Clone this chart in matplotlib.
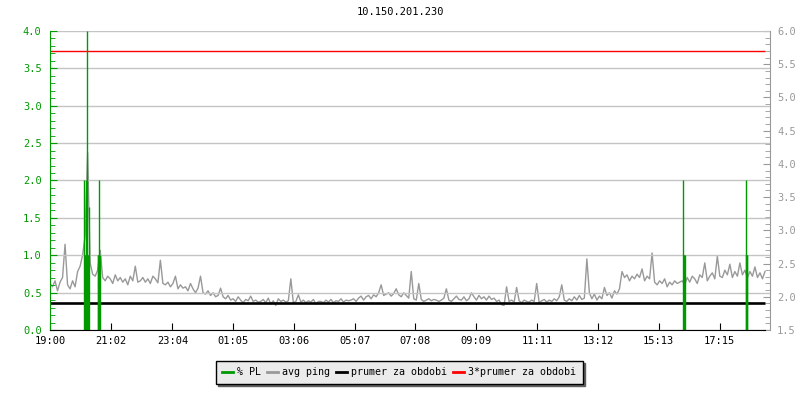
import numpy as np
import matplotlib
matplotlib.use('Agg')
import matplotlib.pyplot as plt
from matplotlib.lines import Line2D
from matplotlib.ticker import MultipleLocator, FormatStrFormatter

plt.rcParams['font.family'] = 'DejaVu Sans Mono'

title = '10.150.201.230'
tick_labels = ['19:00', '21:02', '23:04', '01:05', '03:06', '05:07',
               '07:08', '09:09', '11:11', '13:12', '15:13', '17:15']

# avg ping [ms], one sample every 5 minutes from 19:00
sample_step = 5
avg_ping = [
    2.20, 2.15, 2.24, 2.09, 2.22, 2.29, 2.79, 2.18, 2.12, 2.24, 2.15, 2.38,
    2.46, 2.63, 2.91, 4.17, 2.51, 2.34, 2.31, 2.40, 2.70, 2.29, 2.24, 2.31,
    2.27, 2.20, 2.33, 2.24, 2.29, 2.22, 2.27, 2.18, 2.31, 2.24, 2.46, 2.22,
    2.24, 2.29, 2.22, 2.27, 2.20, 2.31, 2.27, 2.21, 2.55, 2.20, 2.18, 2.22,
    2.15, 2.20, 2.31, 2.12, 2.18, 2.13, 2.15, 2.09, 2.20, 2.12, 2.06, 2.13,
    2.31, 2.06, 2.04, 2.09, 2.02, 2.06, 2.00, 2.02, 2.13, 2.00, 1.97, 2.02,
    1.95, 1.97, 1.93, 2.00, 1.95, 1.91, 1.96, 1.94, 2.01, 1.93, 1.95, 1.92,
    1.93, 1.96, 1.91, 1.98, 1.89, 1.94, 1.87, 1.97, 1.93, 1.95, 1.92, 1.94,
    2.27, 1.91, 1.93, 2.03, 1.92, 1.95, 1.91, 1.94, 1.92, 1.96, 1.89, 1.93,
    1.93, 1.91, 1.95, 1.92, 1.96, 1.91, 1.94, 1.93, 1.97, 1.92, 1.95, 1.94,
    1.95, 1.97, 1.93, 1.98, 2.01, 1.95, 2.00, 2.02, 1.97, 2.03, 2.00, 2.06,
    2.18, 2.02, 2.04, 2.06, 2.01, 2.05, 2.12, 2.03, 2.00, 2.06, 2.02, 1.98,
    2.38, 1.97, 1.95, 2.20, 1.96, 1.93, 1.95, 1.97, 1.94, 1.96, 1.95, 1.93,
    1.95, 1.98, 2.12, 1.95, 1.93, 1.97, 2.01, 1.96, 1.95, 2.00, 1.94, 1.97,
    2.06, 2.00, 1.95, 2.02, 1.97, 2.00, 1.95, 2.01, 1.96, 1.98, 1.93, 1.95,
    1.88, 1.87, 2.15, 1.93, 1.95, 1.92, 2.14, 1.94, 1.91, 1.95, 1.93, 1.92,
    1.95, 1.93, 2.20, 1.91, 1.94, 1.96, 1.92, 1.95, 1.93, 1.97, 1.94, 2.00,
    2.18, 1.95, 1.93, 1.97, 1.94, 2.00, 1.95, 2.02, 1.96, 1.98, 2.57, 2.06,
    1.97, 2.04, 1.95, 2.01, 1.97, 2.14, 2.02, 2.06, 1.98, 2.09, 2.04, 2.12,
    2.38, 2.29, 2.33, 2.24, 2.31, 2.27, 2.34, 2.29, 2.42, 2.24, 2.31, 2.27,
    2.66, 2.22, 2.18, 2.24, 2.20, 2.27, 2.15, 2.22, 2.18, 2.24, 2.20, 2.22,
    2.24, 2.18, 2.29, 2.22, 2.31, 2.27, 2.20, 2.33, 2.29, 2.51, 2.24, 2.31,
    2.36, 2.27, 2.61, 2.31, 2.29, 2.40, 2.33, 2.49, 2.29, 2.38, 2.31, 2.51,
    2.33, 2.40, 2.29, 2.38, 2.31, 2.45, 2.29, 2.36, 2.27, 2.38,
]

# packet loss events (minutes since 19:00, %)
pl_minutes = [68, 69, 70, 71, 72, 73, 74, 75, 76, 77,
              95, 96, 97, 98, 99,
              1262, 1263, 1264, 1265,
              1387, 1388, 1389, 1390]
pl_percent = [2.0, 1.0, 1.0, 1.0, 2.0, 1.0, 4.0, 1.0, 1.0, 1.65,
              1.0, 1.0, 1.0, 2.0, 1.0,
              2.0, 1.0, 1.0, 1.0,
              2.0, 1.0, 1.0, 1.0]

period_mean = 1.9      # prumer za obdobi [ms]
period_mean_x3 = 5.7   # 3*prumer za obdobi [ms]

GREEN = '#009900'
GRAY = '#999999'


def minutes_since_start(label, start='19:00'):
    h, m = map(int, label.split(':'))
    h0, m0 = map(int, start.split(':'))
    return ((h * 60 + m) - (h0 * 60 + m0)) % 1440


tick_pos = [minutes_since_start(t) for t in tick_labels]
t = np.arange(len(avg_ping)) * sample_step
t_end = t[-1]

fig = plt.figure(figsize=(8, 4), dpi=100)
ax = fig.add_axes([50 / 800, 70 / 400, 720 / 800, 299 / 400])
ax2 = ax.twinx()
ax.set_zorder(ax2.get_zorder() + 1)
ax.patch.set_visible(False)

# right axis: ping
ax2.plot(t, avg_ping, color=GRAY, lw=1.0)
ax2.hlines(period_mean, 0, t_end, color='black', lw=1.9)
ax2.hlines(period_mean_x3, 0, t_end, color='red', lw=1.0)
ax2.set_ylim(1.5, 6.0)
ax2.yaxis.set_major_locator(MultipleLocator(0.5))
ax2.yaxis.set_minor_locator(MultipleLocator(0.1))
ax2.yaxis.set_major_formatter(FormatStrFormatter('%.1f'))
ax2.tick_params(axis='y', which='both', direction='in', colors=GRAY,
                labelsize=7.5, pad=5)
ax2.tick_params(axis='y', which='major', length=5)
ax2.tick_params(axis='y', which='minor', length=3.5)
for s in ['top', 'left', 'bottom']:
    ax2.spines[s].set_visible(False)
ax2.spines['right'].set_color(GRAY)

# left axis: packet loss
ax.vlines(pl_minutes, 0, pl_percent, color=GREEN, lw=1.0)
ax.set_ylim(0, 4.0)
ax.set_xlim(0, 1435)
ax.yaxis.set_major_locator(MultipleLocator(0.5))
ax.yaxis.set_minor_locator(MultipleLocator(0.1))
ax.yaxis.set_major_formatter(FormatStrFormatter('%.1f'))
ax.tick_params(axis='y', which='both', direction='in', colors=GREEN,
               labelsize=7.5, pad=6)
ax.tick_params(axis='y', which='major', length=5)
ax.tick_params(axis='y', which='minor', length=3.5)
ax.set_xticks(tick_pos)
ax.set_xticklabels(tick_labels)
ax.tick_params(axis='x', direction='in', length=5, labelsize=7.5, pad=4)
ax.grid(axis='y', color='#c4c4c4', lw=1.0)
ax.spines['top'].set_visible(False)
ax.spines['right'].set_visible(False)
ax.spines['left'].set_color(GREEN)
ax.spines['bottom'].set_bounds(0, t_end)

fig.text(0.5, 1 - 12 / 400, title, ha='center', va='center', fontsize=7.5)

handles = [Line2D([], [], color=GREEN, lw=2),
           Line2D([], [], color=GRAY, lw=2),
           Line2D([], [], color='black', lw=2),
           Line2D([], [], color='red', lw=2)]
labels = ['% PL', 'avg ping', 'prumer za obdobi', '3*prumer za obdobi']
leg = fig.legend(handles, labels, loc='center', bbox_to_anchor=(399 / 800, 1 - 372 / 400),
                 ncol=4, fontsize=7.2, frameon=True, fancybox=False,
                 shadow={'color': '#606060', 'alpha': 1.0},
                 handlelength=1.1, handletextpad=0.4, columnspacing=0.6,
                 borderpad=0.65, borderaxespad=0)
leg.get_frame().set_facecolor('#ebebeb')
leg.get_frame().set_edgecolor('black')
leg.get_frame().set_linewidth(1.0)
leg.get_frame().set_alpha(1.0)

fig.savefig('out.png', dpi=100)
